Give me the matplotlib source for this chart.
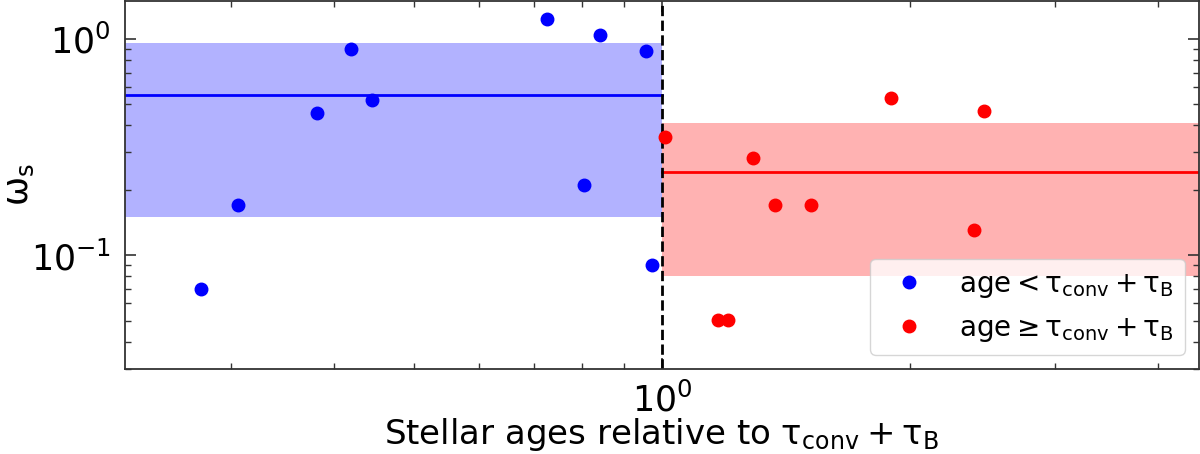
import numpy as np
import matplotlib
matplotlib.use("Agg")
import matplotlib.pyplot as plt

# daty
young_age = [0.276, 0.306, 0.381, 0.419, 0.445, 0.726, 0.805, 0.842, 0.956, 0.972]
young_omega = [0.070, 0.171, 0.455, 0.90, 0.522, 1.237, 0.211, 1.043, 0.88, 0.090]
old_age = [1.008, 1.169, 1.202, 1.289, 1.370, 1.515, 1.898, 2.393, 2.461]
old_omega = [0.352, 0.0502, 0.0502, 0.282, 0.171, 0.171, 0.533, 0.131, 0.465]

young_mean = 0.553
young_band = (0.151, 0.955)
old_mean = 0.2435
old_band = (0.0802, 0.408)

xlim = (0.223, 4.48)
ylim = (0.03, 1.5)

fig = plt.figure(figsize=(12, 4.54), dpi=100)
ax = fig.add_axes([0.104, 0.188, 0.895, 0.81])
ax.set_xscale("log")
ax.set_yscale("log")

# pasy i srednie
ax.fill_between([xlim[0], 1.0], young_band[0], young_band[1], color="blue", alpha=0.3, lw=0)
ax.fill_between([1.0, xlim[1]], old_band[0], old_band[1], color="red", alpha=0.3, lw=0)
ax.plot([xlim[0], 1.0], [young_mean, young_mean], color="blue", lw=2)
ax.plot([1.0, xlim[1]], [old_mean, old_mean], color="red", lw=2)
ax.axvline(1.0, color="black", ls="--", lw=2)

tau = r"\mathrm{\tau}"
ax.plot(young_age, young_omega, "o", color="blue", ms=9, ls="none",
        label=r"$\rm age < %s_{conv} + %s_B$" % (tau, tau))
ax.plot(old_age, old_omega, "o", color="red", ms=9, ls="none",
        label=r"$\rm age \geq %s_{conv} + %s_B$" % (tau, tau))

ax.set_xlim(*xlim)
ax.set_ylim(*ylim)
ax.set_xlabel(r"Stellar ages relative to $%s_{\rm conv} + %s_{\rm B}$" % (tau, tau), fontsize=24.5, labelpad=-1.5)
ax.set_ylabel(r"$\mathrm{\omega}_{\rm s}$", fontsize=25)
ax.yaxis.set_label_coords(-0.083, 0.5)

ax.tick_params(which="both", direction="in", top=True, right=True, labelsize=25, color="#333333")
ax.tick_params(axis="x", pad=9.5)
ax.tick_params(axis="y", pad=10)
ax.tick_params(which="major", length=8, width=1.2)
ax.tick_params(which="minor", length=4.5, width=1)
for s in ax.spines.values():
	s.set_color("#333333")
	s.set_linewidth(1.3)

ax.legend(loc="lower right", fontsize=20)

fig.savefig("out.png", dpi=100)
